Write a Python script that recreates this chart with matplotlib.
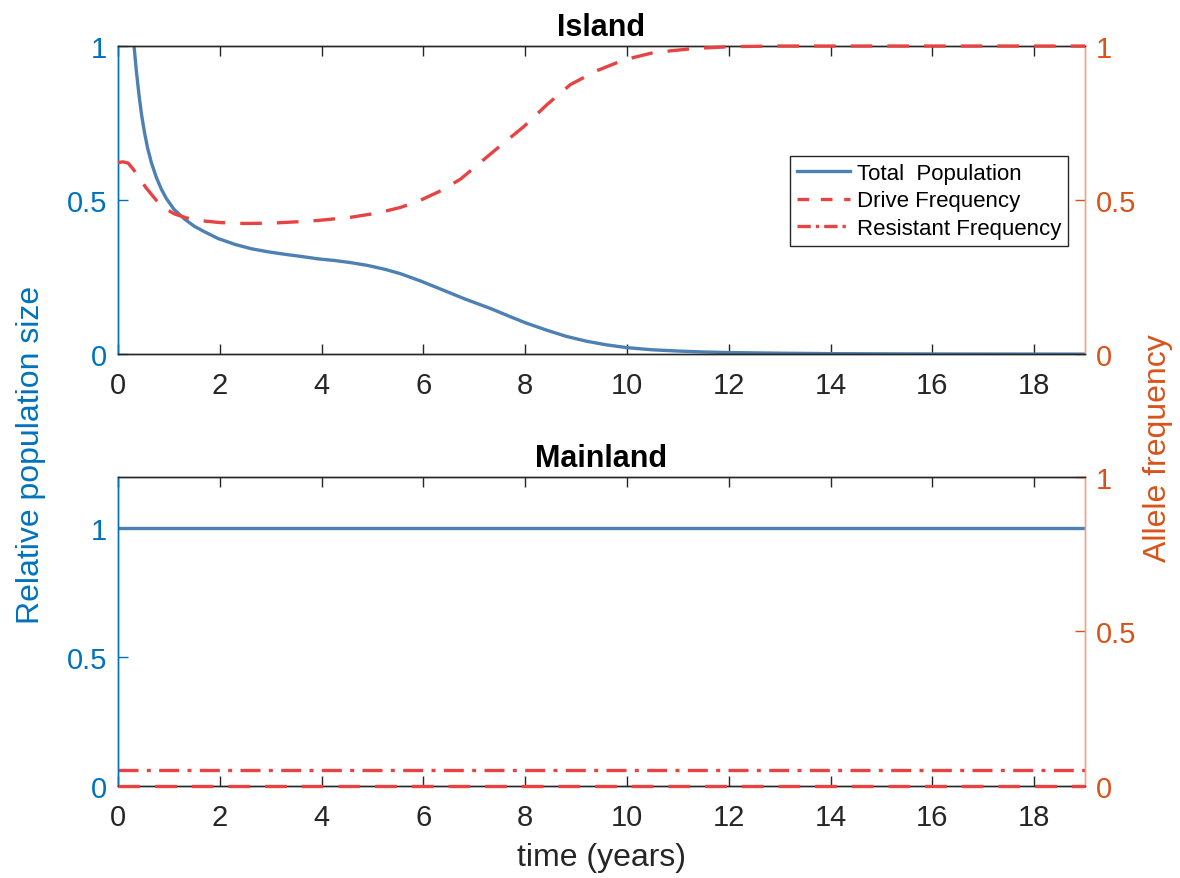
import matplotlib
matplotlib.use("Agg")
import matplotlib.pyplot as plt
from matplotlib.lines import Line2D

plt.rcParams['font.family'] = ['Liberation Sans', 'DejaVu Sans']

# island: total population (left axis)
t_pop = [0.2, 0.315, 0.36, 0.41, 0.46, 0.52, 0.58, 0.655, 0.75, 0.85, 0.95, 1.1,
         1.31, 1.5, 1.7, 1.97, 2.3, 2.62, 2.95, 3.28, 3.6, 3.94, 4.25, 4.57, 4.9,
         5.25, 5.55, 5.95, 6.34, 6.8, 7.32, 7.7, 8.0, 8.4, 8.8, 9.2, 9.6, 10.0,
         10.5, 11.0, 11.5, 12.0, 13.0, 14.0, 16.0, 19.0]
pop_island = [1.25, 1.0, 0.92, 0.845, 0.78, 0.72, 0.67, 0.622, 0.575, 0.536, 0.505,
              0.47, 0.438, 0.415, 0.397, 0.375, 0.356, 0.342, 0.332, 0.324, 0.317,
              0.309, 0.304, 0.297, 0.288, 0.275, 0.261, 0.237, 0.211, 0.18, 0.148,
              0.122, 0.102, 0.079, 0.058, 0.042, 0.03, 0.021, 0.014, 0.01, 0.007,
              0.005, 0.003, 0.0015, 0.0005, 0.0]

# island: drive allele frequency (right axis)
t_drive = [0.0, 0.1, 0.2, 0.3, 0.39, 0.55, 0.79, 0.95, 1.11, 1.35, 1.64, 2.0, 2.49,
           3.0, 3.58, 3.94, 4.57, 5.1, 5.55, 5.95, 6.34, 6.73, 7.12, 7.51, 7.97,
           8.43, 8.89, 9.41, 9.94, 10.53, 11.32, 12.04, 13.0, 19.0]
drive_island = [0.622, 0.624, 0.62, 0.6, 0.579, 0.54, 0.492, 0.47, 0.455, 0.442,
                0.433, 0.427, 0.424, 0.425, 0.43, 0.434, 0.444, 0.458, 0.476, 0.5,
                0.53, 0.568, 0.622, 0.676, 0.738, 0.81, 0.875, 0.92, 0.955, 0.979,
                0.992, 0.998, 1.0, 1.0]

# mainland: constant values
t_main = [0.0, 19.0]
pop_main = [1.0, 1.0]
drive_main = [0.0, 0.0]
resist_main = [0.052, 0.052]

xticks = [0, 2, 4, 6, 8, 10, 12, 14, 16, 18]

BLUE_AX = '#0072BD'
ORANGE_AX = '#D95319'
LINE_BLUE = '#4D80B3'
LINE_RED = '#E84343'
DARK = '#262626'

fig = plt.figure(figsize=(11.8, 8.79), dpi=100)
ax_top = fig.add_axes([0.1, 0.596, 0.8195, 0.3505])
ax_bot = fig.add_axes([0.1, 0.1047, 0.8195, 0.3515])


def style(ax, ax2, ymax_left, title):
    ax.set_xlim(0, 19)
    ax.set_xticks(xticks)
    ax.set_ylim(0, ymax_left)
    ax.set_yticks([0, 0.5, 1])
    ax.set_yticklabels(['0', '0.5', '1'])
    ax2.set_ylim(0, 1)
    ax2.set_yticks([0, 0.5, 1])
    ax2.set_yticklabels(['0', '0.5', '1'])
    ax.tick_params(axis='x', direction='in', length=7, width=1, colors=DARK,
                   labelsize=21, top=True, pad=12)
    ax.tick_params(axis='y', direction='in', length=7, width=1, colors=BLUE_AX,
                   labelsize=21, right=False, pad=8)
    ax2.tick_params(axis='y', direction='in', length=7, width=1, colors=ORANGE_AX,
                    labelsize=21, left=False, pad=8)
    for a in (ax, ax2):
        a.spines['top'].set_color(DARK)
        a.spines['bottom'].set_color(DARK)
        a.spines['left'].set_color(BLUE_AX)
        a.spines['right'].set_color('#EDA385')
        for s in a.spines.values():
            s.set_linewidth(1.0)
    ax.set_title(title, fontsize=22, fontweight='bold', pad=8)


# top panel: Island
ax_top2 = ax_top.twinx()
ax_top.plot(t_pop, pop_island, color=LINE_BLUE, lw=2.4)
ax_top2.plot(t_drive, drive_island, color=LINE_RED, lw=2.4, dashes=(6.5, 4.5),
             clip_on=False, zorder=3)
style(ax_top, ax_top2, 1.0, 'Island')

handles = [
    Line2D([], [], color=LINE_BLUE, lw=2.4),
    Line2D([], [], color=LINE_RED, lw=2.4, dashes=(3.5, 3.5)),
    Line2D([], [], color=LINE_RED, lw=2.4, dashes=(4, 1.5, 1, 1.5)),
]
leg = ax_top2.legend(handles, ['Total  Population', 'Drive Frequency', 'Resistant Frequency'],
                     loc='upper right', bbox_to_anchor=(0.982, 0.643), fontsize=16,
                     frameon=True, fancybox=False, edgecolor=DARK, framealpha=1,
                     borderpad=0.3, labelspacing=0.3, handlelength=2.4,
                     handletextpad=0.3, borderaxespad=0)
leg.get_frame().set_linewidth(1.0)

# bottom panel: Mainland
ax_bot2 = ax_bot.twinx()
ax_bot.plot(t_main, pop_main, color=LINE_BLUE, lw=2.4)
ax_bot2.plot(t_main, drive_main, color=LINE_RED, lw=2.4, dashes=(6.5, 4.5),
             clip_on=False, zorder=3)
ax_bot2.plot(t_main, resist_main, color=LINE_RED, lw=2.4, dashes=(6, 2.5, 1.2, 2.5))
style(ax_bot, ax_bot2, 1.2, 'Mainland')
ax_bot.set_xlabel('time (years)', fontsize=23, color=DARK, labelpad=8)

fig.text(0.026, 0.482, 'Relative population size', rotation=90, fontsize=23,
         color=BLUE_AX, ha='center', va='center')
fig.text(0.981, 0.49, 'Allele frequency', rotation=90, fontsize=23,
         color=ORANGE_AX, ha='center', va='center')

fig.savefig('out.png', dpi=100, facecolor='white')
